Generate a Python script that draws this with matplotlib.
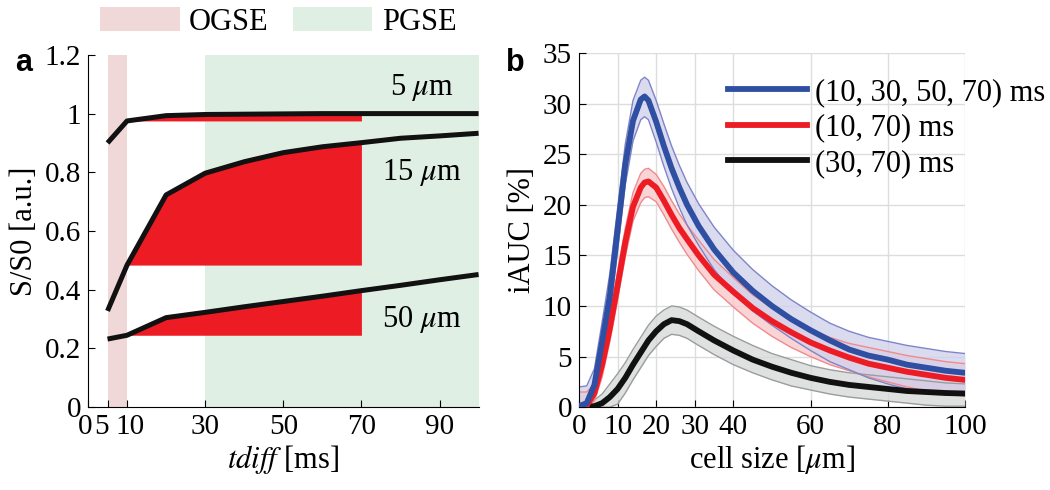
"""Recreates the two-panel S/S0 vs tdiff and iAUC vs cell size figure."""
import matplotlib
matplotlib.use('Agg')
import matplotlib.pyplot as plt
from matplotlib.patches import Patch
from matplotlib.transforms import ScaledTranslation
import numpy as np

plt.rcParams['font.family'] = ['Liberation Serif', 'DejaVu Serif']
plt.rcParams['mathtext.fontset'] = 'stix'
plt.rcParams['font.size'] = 22
plt.rcParams['xtick.labelsize'] = 21
plt.rcParams['ytick.labelsize'] = 21

# Panel a: signal vs diffusion time for three cell sizes
tdiff = [5, 10, 20, 30, 40, 50, 60, 70, 80, 90, 100]
sig_5um = [0.90, 0.975, 0.993, 0.997, 0.998, 0.999, 1.0, 1.0, 1.0, 1.0, 1.0]
sig_15um = [0.328, 0.484, 0.723, 0.797, 0.836, 0.867, 0.887, 0.901, 0.916, 0.924, 0.933]
sig_50um = [0.232, 0.245, 0.305, 0.323, 0.342, 0.360, 0.378, 0.397, 0.415, 0.434, 0.452]
size_labels = ['5 $\\mu$m', '15 $\\mu$m', '50 $\\mu$m']
label_y = [1.088, 0.80, 0.297]
a_xticks = [0, 5, 10, 30, 50, 70, 90]
a_yticks = [0, 0.2, 0.4, 0.6, 0.8, 1.0, 1.2]
a_yticklabels = ['0', '0.2', '0.4', '0.6', '0.8', '1', '1.2']

# Panel b: iAUC vs cell size (mean and band limits)
cell_size = [0, 2, 4, 6, 8, 10, 12, 14, 16, 17, 18, 20, 22, 24, 26, 28, 31, 35,
             40, 45, 50, 55, 60, 65, 70, 75, 80, 85, 90, 95, 100]
blue_mean = [0.1, 0.4, 2.2, 6.5, 11.0, 17.5, 24.0, 28.3, 30.4, 30.7, 30.3, 28.2, 25.8,
             23.6, 21.7, 20.0, 17.9, 15.6, 13.3, 11.5, 10.0, 8.7, 7.6, 6.6, 5.7, 5.1,
             4.7, 4.2, 3.9, 3.6, 3.4]
blue_upper = [2.0, 2.1, 3.8, 8.4, 13.2, 19.6, 26.0, 30.3, 32.3, 32.6, 32.3, 30.3, 28.0,
              25.8, 23.9, 22.2, 20.1, 17.8, 15.5, 13.6, 12.0, 10.6, 9.4, 8.3, 7.5, 6.9,
              6.5, 6.1, 5.8, 5.5, 5.3]
blue_lower = [0.0, 0.1, 1.0, 4.7, 9.0, 15.4, 22.0, 26.3, 28.4, 28.7, 28.4, 26.2, 23.8,
              21.6, 19.7, 18.0, 16.0, 13.6, 11.3, 9.5, 8.1, 6.8, 5.6, 4.5, 3.7, 2.9,
              2.3, 1.8, 1.5, 1.3, 1.2]
red_mean = [0.05, 0.15, 1.4, 4.2, 7.8, 12.0, 16.3, 19.8, 21.7, 22.2, 22.3, 21.7, 20.4,
            19.0, 17.7, 16.6, 15.0, 13.1, 11.4, 9.8, 8.5, 7.4, 6.4, 5.6, 4.9, 4.3,
            3.9, 3.5, 3.2, 2.9, 2.7]
red_upper = [1.5, 1.5, 2.3, 5.4, 9.1, 13.4, 17.7, 21.2, 23.1, 23.5, 23.6, 23.0, 21.8,
             20.4, 19.1, 18.0, 16.5, 14.6, 12.8, 11.1, 9.8, 8.7, 7.7, 6.9, 6.3, 5.9,
             5.5, 5.1, 4.8, 4.5, 4.3]
red_lower = [0.0, 0.0, 0.6, 3.0, 6.5, 10.6, 14.9, 18.4, 20.2, 20.7, 20.8, 20.3, 19.0,
             17.6, 16.3, 15.1, 13.5, 11.6, 9.9, 8.3, 7.0, 5.9, 5.0, 4.2, 3.6, 3.0,
             2.5, 2.0, 1.6, 1.3, 1.1]
black_mean = [0.05, 0.05, 0.1, 0.4, 1.0, 1.8, 2.9, 4.2, 5.4, 6.0, 6.6, 7.5, 8.2,
              8.6, 8.5, 8.2, 7.5, 6.6, 5.6, 4.7, 4.0, 3.4, 2.9, 2.5, 2.2, 2.0,
              1.8, 1.6, 1.5, 1.4, 1.35]
black_upper = [0.3, 0.4, 0.7, 1.3, 2.3, 3.3, 4.4, 5.7, 6.9, 7.5, 8.1, 9.0, 9.6,
               10.0, 9.9, 9.6, 8.9, 8.0, 7.0, 6.1, 5.3, 4.7, 4.1, 3.7, 3.4, 3.2,
               3.0, 2.8, 2.6, 2.4, 2.3]
black_lower = [0.0, 0.0, 0.0, 0.0, 0.0, 0.3, 1.4, 2.7, 3.9, 4.5, 5.1, 6.0, 6.8,
               7.2, 7.1, 6.8, 6.1, 5.2, 4.2, 3.4, 2.7, 2.1, 1.7, 1.3, 1.0, 0.8,
               0.6, 0.4, 0.2, 0.1, 0.1]
series_labels = ['(10, 30, 50, 70) ms', '(10, 70) ms', '(30, 70) ms']
b_xticks = [0, 10, 20, 30, 40, 60, 80, 100]
b_yticks = [0, 5, 10, 15, 20, 25, 30, 35]

OGSE_COLOR = '#f0d8d8'
PGSE_COLOR = '#dfefe4'
RED = '#ed1c24'


def style_axis(ax):
    """MATLAB-like axis: inward ticks, only left and bottom spines."""
    ax.spines['top'].set_visible(False)
    ax.spines['right'].set_visible(False)
    ax.tick_params(direction='in', length=5, width=0.8, pad=5)


def draw_panel_a(ax, fig):
    """Signal curves with OGSE/PGSE bands and red filled differences."""
    ax.axvspan(5, 10, ymin=0, ymax=1, color=OGSE_COLOR, lw=0, zorder=0)
    ax.axvspan(30, 100, ymin=0, ymax=1, color=PGSE_COLOR, lw=0, zorder=0)
    t = np.array(tdiff)
    for sig, lab, ly in zip([sig_5um, sig_15um, sig_50um], size_labels, label_y):
        s = np.array(sig)
        # fill from the 10 ms value up to the curve, between 10 and 70 ms
        sel = (t >= 10) & (t <= 70)
        ax.fill_between(t[sel], s[sel], s[1], color=RED, lw=0, zorder=1)
        ax.plot(t, s, color='#111111', lw=3.6, solid_capstyle='butt', zorder=3)
        ax.text(85.5, ly, lab, ha='center', va='center', fontsize=22, zorder=4)
    ax.set_xlim(0, 100)
    ax.set_ylim(0, 1.2)
    ax.set_xticks(a_xticks)
    ax.set_yticks(a_yticks)
    ax.set_yticklabels(a_yticklabels)
    ax.set_xlabel('$tdiff$ [ms]', labelpad=2)
    ax.set_ylabel('S/S0 [a.u.]', labelpad=4)
    style_axis(ax)
    # nudge the crowded 0 / 5 / 10 labels apart like the original
    shifts = {0: -2, 5: -4, 10: 2}
    for tick_val, lbl in zip(a_xticks, ax.get_xticklabels()):
        if tick_val in shifts:
            dx = shifts[tick_val] / 72.0
            lbl.set_transform(lbl.get_transform()
                              + ScaledTranslation(dx, 0, fig.dpi_scale_trans))


def draw_panel_b(ax):
    """iAUC mean curves with shaded bands."""
    x = np.array(cell_size)
    bands = [
        (blue_mean, blue_upper, blue_lower, '#2f4fa2', '#cfd0ec', '#7f84c8'),
        (red_mean, red_upper, red_lower, RED, '#f8c6c8', '#f08a8e'),
        (black_mean, black_upper, black_lower, '#111111', '#d5d7d8', '#9a9c9e'),
    ]
    for mean, up, lo, line_c, fill_c, edge_c in bands[::-1]:
        ax.fill_between(x, lo, up, color=fill_c, alpha=0.75, lw=0, zorder=1)
        ax.plot(x, up, color=edge_c, lw=1.0, zorder=2)
        ax.plot(x, lo, color=edge_c, lw=1.0, zorder=2)
    handles = []
    for (mean, up, lo, line_c, fill_c, edge_c), lab in zip(bands, series_labels):
        ln, = ax.plot(x, mean, color=line_c, lw=4.2, zorder=3, label=lab)
        handles.append(ln)
    # draw order: black, red, blue on top
    handles[0].set_zorder(5)
    handles[1].set_zorder(4)
    ax.legend(handles=handles, loc='upper left', bbox_to_anchor=(0.385, 0.93),
              frameon=False, fontsize=22, handlelength=2.6, handletextpad=0.25,
              labelspacing=0.22, borderpad=0, borderaxespad=0)
    ax.set_xlim(0, 100)
    ax.set_ylim(0, 35)
    ax.set_xticks(b_xticks)
    ax.set_yticks(b_yticks)
    ax.grid(True, color='#dddddd', lw=1.0)
    ax.set_axisbelow(True)
    ax.set_xlabel('cell size [$\\mu$m]', labelpad=2)
    ax.set_ylabel('iAUC [%]', labelpad=4)
    style_axis(ax)


fig = plt.figure(figsize=(10.5, 4.9), dpi=100)
ax_a = fig.add_axes([0.0838, 0.169, 0.372, 0.719])
ax_b = fig.add_axes([0.5514, 0.169, 0.3676, 0.723])
draw_panel_a(ax_a, fig)
draw_panel_b(ax_b)

legend_patches = [Patch(facecolor=OGSE_COLOR, edgecolor='none', label='OGSE'),
                  Patch(facecolor=PGSE_COLOR, edgecolor='none', label='PGSE')]
fig.legend(handles=legend_patches, loc='center', bbox_to_anchor=(0.265, 0.955), ncol=2,
           frameon=False, fontsize=22, handlelength=2.6, handleheight=0.8,
           handletextpad=0.3, columnspacing=0.8)

fig.text(0.014, 0.872, 'a', fontsize=22, fontweight='bold', family='Liberation Sans',
         va='center')
fig.text(0.482, 0.872, 'b', fontsize=22, fontweight='bold', family='Liberation Sans',
         va='center')

fig.savefig('out.png', dpi=100)
